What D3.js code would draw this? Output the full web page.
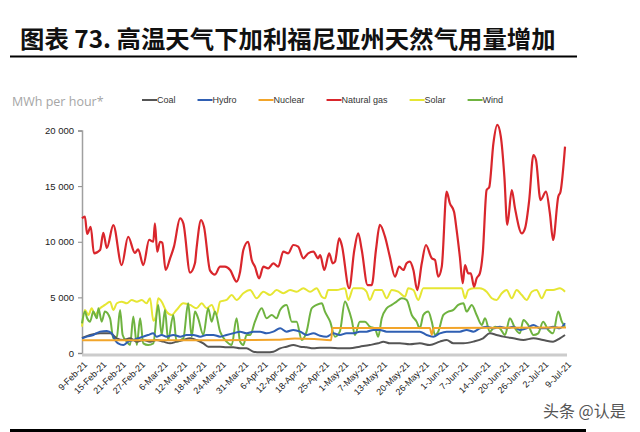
<!DOCTYPE html>
<html><head><meta charset="utf-8">
<script src="https://cdn.jsdelivr.net/npm/d3@7"></script>
<style>body{margin:0;background:#fff} svg{display:block}</style>
</head><body>
<svg id="c" width="640" height="432"></svg>
<script>
// ---------- data ----------
const titleText = "图表 73. 高温天气下加利福尼亚州天然气用量增加";
const unitLabel = "MWh per hour*";
const watermark = "头条 @认是";
const startDate = "9-Feb-21";
const endDay = 150;
const seriesNames = ["Coal", "Hydro", "Nuclear", "Natural gas", "Solar", "Wind"];
const xTickLabels = ["9-Feb-21","15-Feb-21","21-Feb-21","27-Feb-21","6-Mar-21","12-Mar-21","18-Mar-21","24-Mar-21","31-Mar-21","6-Apr-21","12-Apr-21","18-Apr-21","25-Apr-21","1-May-21","7-May-21","13-May-21","20-May-21","26-May-21","1-Jun-21","7-Jun-21","14-Jun-21","20-Jun-21","26-Jun-21","2-Jul-21","9-Jul-21"];
const yTicks = [0, 5000, 10000, 15000, 20000];

// day offsets from startDate, and values (MWh per hour)
const gasDays = [0,0.9,1.6,2.7,3.7,5.6,6.6,7.7,9.7,12.3,14.3,16.4,17.4,19,20.8,22.1,22.6,23.3,24.2,24.9,25.9,27.3,28.5,30.4,31.4,33.5,35,35.5,36.9,37.8,39.7,41.2,42.8,44.3,45.9,47.9,49,50,51.5,52.6,53.6,54.9,56.2,57.7,59.3,60.8,62.4,63.9,65.5,67,68.6,70.1,71.7,73.2,73.8,75.1,76.6,77.7,78.4,79.7,80.5,82.8,84.4,85.6,86.7,88.5,89.8,91.1,92.3,93.9,95.4,97,98.3,99.6,100.6,101.6,102.7,103.9,105.3,106.6,108.4,109.4,110.4,111.5,113,114,115.3,116.1,117.1,118,118.7,119.7,120.5,121.5,122.3,123.3,124.2,125.4,126.2,127.5,128.7,129.8,130.9,131.8,133.2,134.2,136.3,137.3,138.6,139.9,140.7,142.1,143.8,145,146,147.6,148.3,149.7];
const gasValues = [12100,12250,10700,11350,8960,9260,10790,9440,11500,7900,10450,8990,9320,7900,10160,10000,11660,9100,10000,9900,7460,8500,9560,12100,11660,7220,8060,9410,11950,11350,7400,7050,7760,7760,7460,6410,7310,9260,10000,8360,7760,6710,7760,7610,8060,7760,9110,8960,9710,9560,8510,8960,9110,8510,8810,7460,8960,8060,8210,10310,9710,5820,9260,10760,9260,6110,6110,9260,11510,10460,8660,6860,7760,7460,8060,8210,7460,5660,8060,9710,8510,8360,6860,7760,14500,13460,12700,11060,8660,6270,7910,7160,7160,5960,6710,7160,8960,14650,14900,18850,20500,19450,15850,11510,14650,13000,10760,11210,13750,17800,17350,13750,14500,12560,10160,14050,14500,18550];

const solarDays = [0,0.9,2,3,4,5.6,7.1,8.7,9.7,10.8,12.3,13.9,15.4,17,18.5,20,21.1,22.1,22.9,23.6,24.7,26.2,27.8,29.3,31.4,33.5,35.5,37.1,38.6,40.2,41.7,42.8,44.8,46.4,47.9,50,52.1,54.1,56.2,58.3,60.3,62.4,64.5,66.5,68.6,70.7,72.7,74.3,75.3,76.3,78.9,81.5,82.5,84.1,86.7,88.2,89.2,90.8,92.9,94.4,96,98,100.1,101.1,102.7,104.2,105.8,108.9,112,115.1,117.7,118.7,119.7,121.3,123.3,125.4,127,128.5,130.1,131.6,133.2,134.7,136.3,137.8,139.4,140.9,142.5,144,146,148.1,149.7];
const solarValues = [2370,3870,3420,4020,3420,4020,4320,4610,3870,4470,4610,4470,4770,4610,4770,4470,4920,2900,3270,4920,4610,3720,3420,3870,4470,4320,4020,4470,4020,4320,3420,4610,4770,5210,4770,5370,5660,4920,5510,5210,5660,5370,5660,5510,5820,5510,5820,5060,4920,5660,5660,5820,4770,5820,5820,5510,4770,5660,5660,4920,5660,5510,5060,5820,5660,4770,5820,5820,5820,5820,5820,4920,5660,5820,5820,5510,4920,4770,5370,5660,4920,5660,5210,4770,5510,5660,4920,5660,5660,5820,5510];

const windDays = [0,0.9,1.6,2.5,3.5,4.6,5.1,6.1,7.1,8.7,9.7,10.8,11.8,12.6,13.9,14.9,15.9,17,18,19,20.5,22.1,23.6,24.7,25.7,26.7,28.3,29.3,31.4,32.9,34,35,36,37.6,39.1,40.2,41.2,42.8,44.8,46.4,47.9,49,50,51,52.1,53.6,55.7,57.2,58.8,60.3,61.4,63.4,65,66.5,68.1,69.6,71.2,72.7,74.3,75.3,76.9,78.4,79.9,81.5,82.5,83.6,84.6,86.1,87.7,89.2,90.8,91.8,92.9,94.4,96,97.5,99.1,100.6,102.2,103.7,104.7,105.8,107.3,108.4,109.4,110.4,112,113.5,115.1,116.6,118.2,119.2,120.8,122.3,123.9,124.9,126.4,128,129.5,131.1,132.6,134.2,135.7,136.8,138.3,139.9,141.4,142.9,144.5,146,147.6,148.7,149.7];
const windValues = [2670,3720,3120,2820,3720,3120,4020,2820,3720,3120,1320,1470,3870,1620,1020,720,3270,720,3120,870,720,870,4320,1620,3870,1170,3420,1020,1320,4470,1470,3720,3120,1620,4020,2820,3720,1920,1020,720,3120,1020,720,1620,1620,2820,4020,3120,3420,3120,3870,4320,2820,2820,1170,1920,4020,4320,4470,3720,2820,1470,1920,4620,4020,2970,1620,2820,2820,2370,2220,1470,3120,4020,4320,4620,4920,4770,3420,2820,2220,3420,3720,2820,1620,1920,3420,3720,3870,4320,4470,3720,4320,3420,2520,3120,1920,2370,2220,1620,3120,2220,1770,2970,2520,1620,1770,2820,2070,1770,3720,2820,2370];

const hydroDays = [0,1.5,3.5,5.6,7.7,9.2,10.2,11.2,12.8,14.3,15.9,17.4,19,20.5,22.1,23.1,24.7,26.2,28.3,30.4,32.4,34.5,36.6,38.6,40.7,42.8,44.8,46.9,49,51,53.1,55.2,57.2,59.3,61.4,63.4,65.5,67.6,69.6,71.7,73.8,75.8,77.9,79.9,82,84.1,86.1,88.2,90.3,92.3,94.4,96.5,98.5,100.6,102.7,104.7,106.8,108.9,110.9,113,115.1,117.1,119.2,121.3,123.3,125.4,127.5,129.5,131.6,133.7,135.7,137.8,139.9,142,144,146,148.1,149.7];
const hydroValues = [1320,1470,1620,1920,1980,1770,1170,870,720,1020,1170,1320,1470,1620,1770,1470,1620,1470,1620,1470,1620,1620,1470,1620,1620,1470,1620,1770,1920,1770,1920,1920,1770,1920,2220,1920,2070,1920,1620,1770,1550,1470,1770,1620,1770,1770,1920,1920,2070,2070,1920,1920,1920,1920,1920,1920,1620,1470,1770,1920,1920,1920,2070,1920,2220,2370,2220,2370,2220,2370,2070,2220,2520,2220,2220,2370,2220,2670];

const coalDays = [0,2.5,5.6,8.7,10.8,12.8,14.9,17,19,21.1,23.1,25.2,27.3,29.3,31.4,33.5,35.5,37.6,39.1,40.7,42.8,44.8,46.9,49,51,53.1,55.2,57.2,59.3,61.4,63.4,65.5,67.6,69.6,71.7,73.8,76.9,79.9,83,86.1,89.2,91.8,93.4,95.4,98.5,101.6,104.7,107.8,110.9,113,115.1,118.2,121.3,124.3,126.4,128.5,130.6,133.7,136.8,139.9,142.9,146,148.1,149.7];
const coalValues = [1350,1620,1770,1770,1320,1170,1320,1020,1170,1020,1170,1020,870,1020,1170,1320,1170,870,570,570,570,510,510,420,420,120,60,60,120,420,570,720,570,510,420,480,480,420,420,570,720,870,1020,870,870,780,870,720,1020,1170,870,870,1020,1320,1770,1620,1470,1320,1170,1320,1170,1020,1320,1620];

const nuclearDays = [0,30,60,66,72,77.2,77.6,107.8,108.4,109,130,150];
const nuclearValues = [1150,1150,1180,1300,1250,1150,2250,2250,1650,2250,2270,2300];

// ---------- styles ----------
const colors = {"Coal":"#555555","Hydro":"#2f5fb3","Nuclear":"#f2a52a","Natural gas":"#d9262c","Solar":"#e6e633","Wind":"#6fb340"};
const seriesData = {
  "Coal": [coalDays, coalValues],
  "Hydro": [hydroDays, hydroValues],
  "Nuclear": [nuclearDays, nuclearValues],
  "Natural gas": [gasDays, gasValues],
  "Solar": [solarDays, solarValues],
  "Wind": [windDays, windValues]
};
const drawOrder = ["Solar","Wind","Coal","Hydro","Nuclear","Natural gas"];

const svg = d3.select("#c");
const parse = d3.utcParse("%d-%b-%y");
const t0 = parse(startDate);
const toDate = d => new Date(t0.getTime() + d * 864e5);

const x = d3.scaleUtc().domain([t0, toDate(endDay)]).range([82, 566]);
const y = d3.scaleLinear().domain([0, 20000]).range([353, 130.5]);

// title
svg.append("text").attr("x", 20).attr("y", 48)
  .style("font-family", "'Noto Sans CJK SC', sans-serif").style("font-weight", 700)
  .style("font-size", "24.4px").attr("fill", "#111").text(titleText);
svg.append("line").attr("x1", 10).attr("x2", 577).attr("y1", 56.5).attr("y2", 56.5)
  .attr("stroke", "#000").attr("stroke-width", 2);
svg.append("line").attr("x1", 10).attr("x2", 586).attr("y1", 430.5).attr("y2", 430.5)
  .attr("stroke", "#000").attr("stroke-width", 3);

// unit label
svg.append("text").attr("x", 12).attr("y", 106)
  .style("font-family", "'Open Sans', sans-serif").style("font-size", "12.5px")
  .attr("fill", "#a6a6a6").text(unitLabel);

// legend
const lg = svg.append("g").style("font-family", "'Liberation Sans', Arial, sans-serif").style("font-size", "9px");
let lx = 142;
seriesNames.forEach(n => {
  lg.append("line").attr("x1", lx).attr("x2", lx + 15).attr("y1", 100).attr("y2", 100)
    .attr("stroke", colors[n]).attr("stroke-width", 2);
  const t = lg.append("text").attr("x", lx + 15).attr("y", 103).attr("fill", "#333").text(n);
  lx += 15 + t.node().getComputedTextLength() + 22;
});

// y axis
const loc = d3.formatLocale({decimal: ".", thousands: " ", grouping: [3], currency: ["", ""]});
const yAxis = svg.append("g").attr("transform", "translate(82,0)")
  .call(d3.axisLeft(y).tickValues(yTicks).tickSize(4).tickPadding(4).tickFormat(loc.format(",")));
yAxis.select(".domain").attr("stroke", "#a0a0a0").attr("stroke-width", 1.5);
yAxis.selectAll(".tick line").attr("stroke", "#888");
yAxis.selectAll("text").style("font-family", "'Liberation Sans', Arial, sans-serif")
  .style("font-size", "9.5px").attr("fill", "#222");

// x axis
const xTickDates = xTickLabels.map(parse);
const xAxis = svg.append("g").attr("transform", "translate(0,355)")
  .call(d3.axisBottom(x).tickValues(xTickDates).tickSize(0).tickFormat((d, i) => xTickLabels[i]));
xAxis.select(".domain").attr("stroke", "#cccccc").attr("stroke-width", 3).attr("d", `M82,0H567`);
xAxis.selectAll("text")
  .style("font-family", "'Liberation Sans', Arial, sans-serif").style("font-size", "9px").attr("fill", "#222")
  .attr("text-anchor", "end").attr("x", 0).attr("y", 0).attr("dy", "0.35em")
  .attr("transform", "translate(3,8) rotate(-45)");

// lines
const line = d3.line().x(d => x(toDate(d[0]))).y(d => y(d[1])).curve(d3.curveMonotoneX);
drawOrder.forEach(n => {
  const [days, vals] = seriesData[n];
  const pts = days.map((d, i) => [d, vals[i]]);
  svg.append("path").datum(pts).attr("d", line).attr("fill", "none")
    .attr("stroke", colors[n]).attr("stroke-width", n === "Natural gas" ? 2.2 : 2)
    .attr("stroke-linejoin", "round");
});

// watermark
svg.append("text").attr("x", 543).attr("y", 417)
  .style("font-family", "'Noto Sans CJK SC', sans-serif").style("font-size", "16px")
  .attr("fill", "#555").text(watermark);
</script>
</body></html>
